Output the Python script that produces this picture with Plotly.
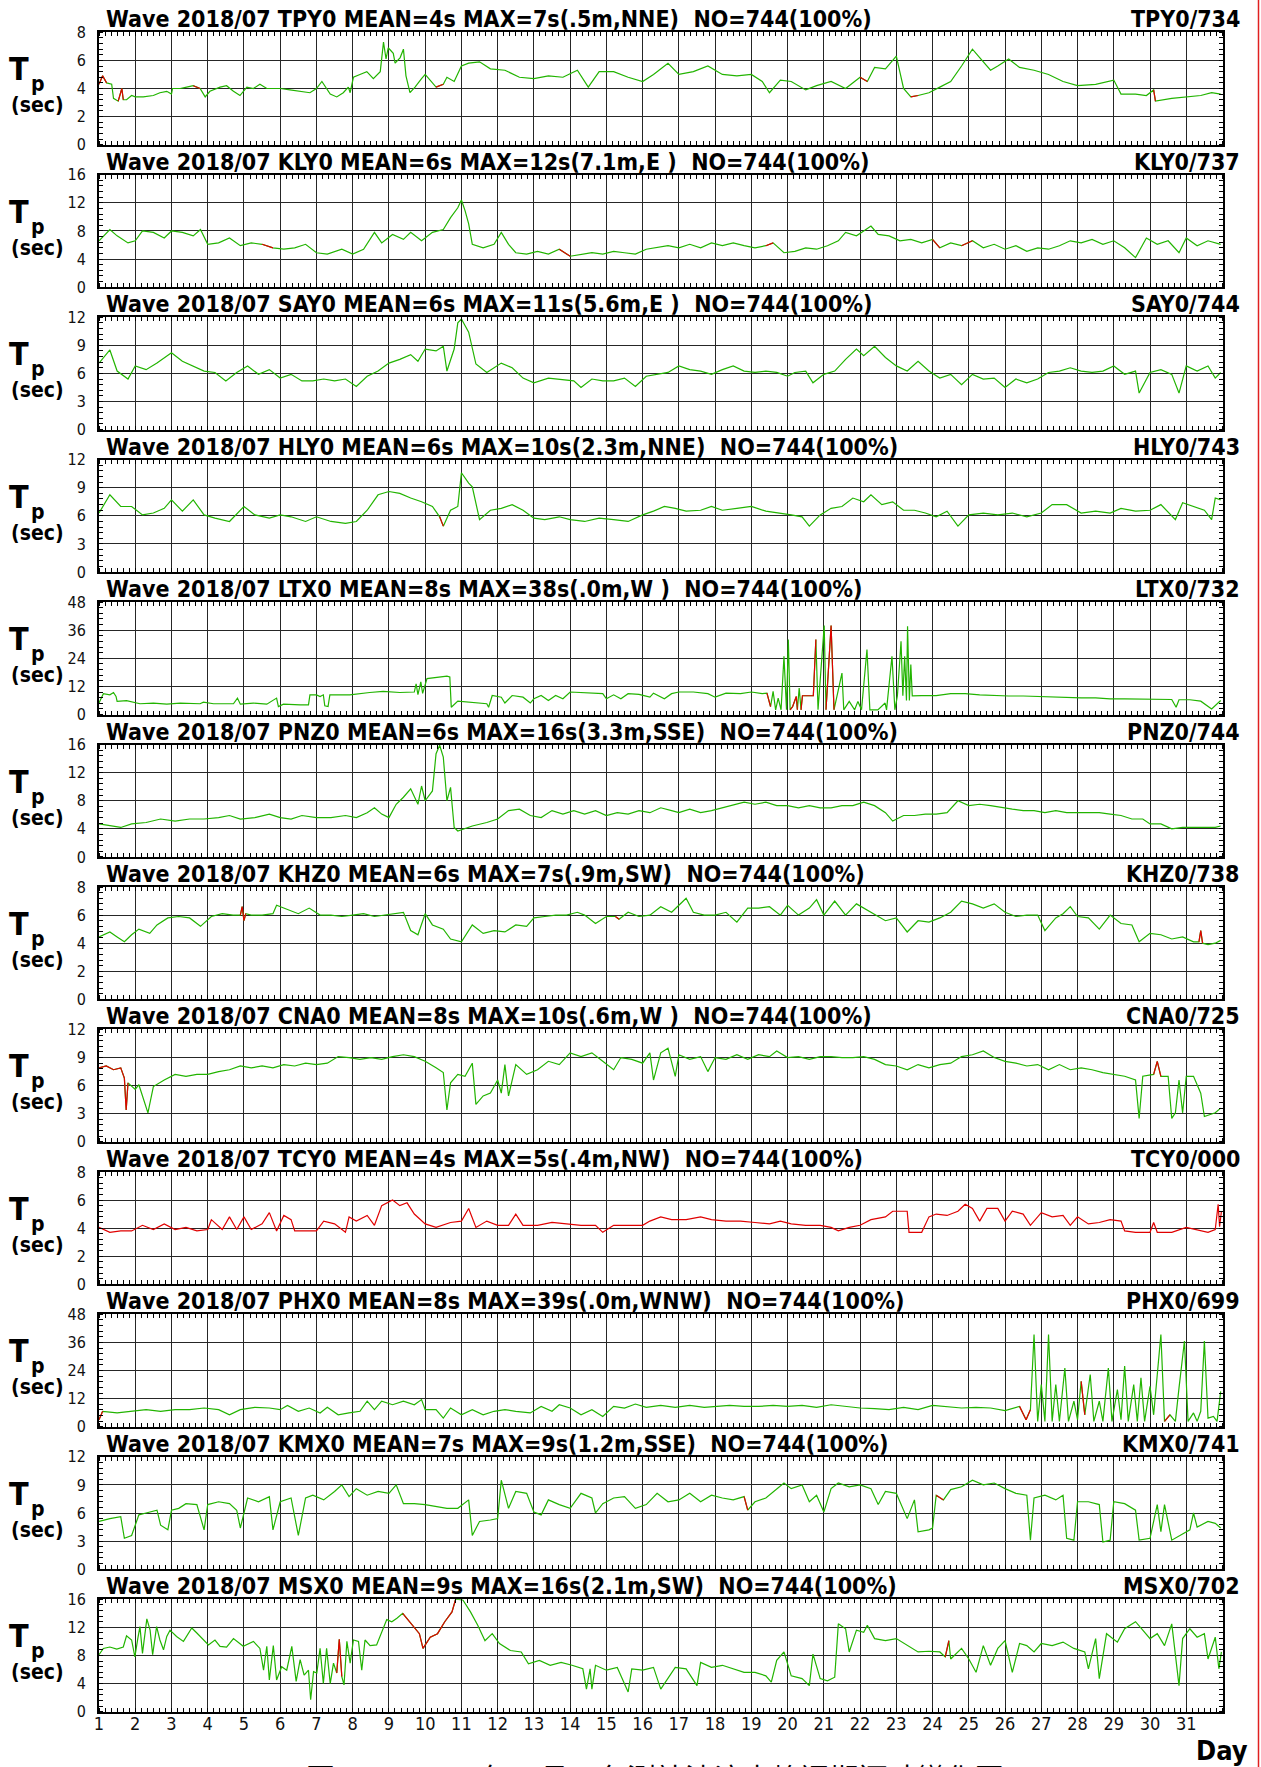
import plotly.graph_objects as go

W, H = 1261, 1767
FONT = "Liberation Sans Narrow, Arial Narrow, DejaVu Sans Condensed, Liberation Sans, sans-serif"
GREEN = "#22b400"
RED = "#e00000"


def xp(s):
    return s / W


def yp(s):
    return 1 - s / H


DAY_TICKS = list(range(1, 32))

STATIONS = ["TPY0", "KLY0", "SAY0", "HLY0", "LTX0", "PNZ0",
            "KHZ0", "CNA0", "TCY0", "PHX0", "KMX0", "MSX0"]
TITLES = [
    "Wave 2018/07 TPY0 MEAN=4s MAX=7s(.5m,NNE)  NO=744(100%)",
    "Wave 2018/07 KLY0 MEAN=6s MAX=12s(7.1m,E )  NO=744(100%)",
    "Wave 2018/07 SAY0 MEAN=6s MAX=11s(5.6m,E )  NO=744(100%)",
    "Wave 2018/07 HLY0 MEAN=6s MAX=10s(2.3m,NNE)  NO=744(100%)",
    "Wave 2018/07 LTX0 MEAN=8s MAX=38s(.0m,W )  NO=744(100%)",
    "Wave 2018/07 PNZ0 MEAN=6s MAX=16s(3.3m,SSE)  NO=744(100%)",
    "Wave 2018/07 KHZ0 MEAN=6s MAX=7s(.9m,SW)  NO=744(100%)",
    "Wave 2018/07 CNA0 MEAN=8s MAX=10s(.6m,W )  NO=744(100%)",
    "Wave 2018/07 TCY0 MEAN=4s MAX=5s(.4m,NW)  NO=744(100%)",
    "Wave 2018/07 PHX0 MEAN=8s MAX=39s(.0m,WNW)  NO=744(100%)",
    "Wave 2018/07 KMX0 MEAN=7s MAX=9s(1.2m,SSE)  NO=744(100%)",
    "Wave 2018/07 MSX0 MEAN=9s MAX=16s(2.1m,SW)  NO=744(100%)",
]
RIGHT_LABELS = ["TPY0/734", "KLY0/737", "SAY0/744", "HLY0/743", "LTX0/732", "PNZ0/744",
                "KHZ0/738", "CNA0/725", "TCY0/000", "PHX0/699", "KMX0/741", "MSX0/702"]
YMAX = [8, 16, 12, 12, 48, 16, 8, 12, 8, 48, 12, 16]
YSTEP = [2, 4, 3, 3, 12, 4, 2, 3, 2, 12, 3, 4]

# ---- series: (day, Tp seconds) ----
TPY0 = [(1.0,4.3),(1.1,4.9),(1.21,4.4),(1.35,4.3),(1.4,3.3),(1.53,3.1),(1.63,4.0),(1.67,3.2),(1.76,3.2),(1.9,3.5),
        (2.0,3.4),(2.22,3.4),(2.5,3.5),(2.68,3.7),(2.87,3.8),(3.0,3.6),(3.03,4.0),(3.24,4.0),(3.42,4.1),(3.6,4.2),
        (3.79,4.0),(3.93,3.4),(4.06,3.8),(4.34,4.1),(4.52,4.2),(4.71,3.8),(4.89,3.5),(5.08,4.1),(5.26,4.0),(5.44,4.3),
        (5.63,4.0),(6.0,4.0),(6.27,3.9),(6.55,3.8),(6.82,3.7),(7.0,4.0),(7.15,4.5),(7.38,3.6),(7.56,3.4),(7.74,3.7),
        (7.88,4.1),(7.93,3.7),(8.02,4.8),(8.2,5.0),(8.39,5.2),(8.57,4.7),(8.76,5.2),(8.85,7.3),(8.92,6.1),(8.98,6.9),
        (9.12,6.5),(9.17,5.8),(9.31,6.2),(9.4,6.8),(9.47,4.9),(9.58,3.7),(9.72,4.1),(9.9,4.7),(10.0,5.0),(10.3,4.1),
        (10.5,4.3),(10.6,4.8),(10.8,4.5),(11.0,5.6),(11.2,5.8),(11.5,5.9),(11.8,5.4),(12.2,5.3),(12.6,4.8),(13.0,4.7),
        (13.4,4.9),(13.8,4.8),(14.2,5.3),(14.5,4.1),(14.8,5.2),(15.2,5.2),(15.6,4.8),(16.0,4.5),(16.3,5.0),(16.7,5.8),
        (17.0,5.0),(17.4,5.2),(17.8,5.6),(18.2,5.0),(18.6,4.9),(19.0,5.0),(19.3,4.5),(19.5,3.7),(19.8,4.6),(20.1,4.5),
        (20.5,3.9),(20.8,4.2),(21.2,4.5),(21.6,4.0),(22.0,4.8),(22.2,4.5),(22.4,5.5),(22.7,5.4),(23.0,6.3),(23.2,4.0),
        (23.4,3.4),(23.6,3.5),(23.9,3.7),(24.2,4.1),(24.5,4.5),(24.8,5.6),(25.0,6.4),(25.1,6.8),(25.3,6.2),(25.6,5.3),
        (25.8,5.6),(26.1,6.1),(26.4,5.5),(26.8,5.3),(27.2,5.0),(27.6,4.5),(28.0,4.2),(28.5,4.3),(29.0,4.6),(29.2,3.6),
        (29.6,3.6),(29.9,3.5),(30.1,3.9),(30.15,3.1),(30.6,3.3),(31.0,3.4),(31.4,3.5),(31.7,3.7),(31.95,3.6)]
TPY0_RED = [(1.0,1.21),(1.53,1.67),(3.6,3.79),(10.3,10.5),(22.0,22.2),(23.4,23.6),(30.1,30.15)]

KLY0 = [(1.0,6.6),(1.3,8.2),(1.5,7.3),(1.8,6.3),(2.0,6.6),(2.2,8.0),(2.5,7.8),(2.8,7.0),(3.0,8.0),(3.3,7.8),
        (3.6,7.3),(3.8,8.2),(4.0,6.1),(4.3,6.3),(4.6,7.0),(4.9,5.9),(5.2,6.3),(5.5,6.1),(5.8,5.6),(6.1,5.4),
        (6.4,5.6),(6.7,6.1),(7.0,4.9),(7.3,4.7),(7.7,5.4),(8.0,4.7),(8.3,5.4),(8.6,7.8),(8.8,6.3),(9.1,7.5),
        (9.4,6.8),(9.6,7.8),(9.9,6.6),(10.2,7.8),(10.5,8.2),(10.7,9.9),(10.9,11.3),(11.0,12.4),(11.1,10.9),(11.2,9.0),
        (11.3,6.1),(11.6,5.6),(11.9,6.1),(12.1,7.8),(12.3,6.1),(12.5,4.9),(12.8,4.7),(13.1,5.1),(13.4,4.7),(13.7,5.4),
        (14.0,4.4),(14.3,4.7),(14.6,4.9),(14.9,4.7),(15.2,5.1),(15.5,4.9),(15.8,4.7),(16.1,5.4),(16.4,5.6),(16.7,5.9),
        (17.0,5.6),(17.3,6.1),(17.6,5.6),(17.9,6.3),(18.2,5.9),(18.5,6.3),(18.8,5.9),(19.1,5.6),(19.4,5.9),(19.6,6.3),
        (19.9,4.9),(20.2,5.1),(20.5,5.6),(20.8,5.4),(21.1,5.9),(21.4,6.6),(21.6,7.8),(21.9,7.3),(22.1,8.0),(22.3,8.7),
        (22.5,7.5),(22.8,7.3),(23.1,6.6),(23.4,6.8),(23.7,6.3),(24.0,6.8),(24.2,5.6),(24.5,6.3),(24.8,5.9),(25.1,6.6),
        (25.4,5.6),(25.7,6.1),(26.0,5.4),(26.3,5.9),(26.6,5.1),(26.9,5.6),(27.2,5.4),(27.5,5.9),(27.8,6.6),(28.1,6.3),
        (28.4,6.8),(28.7,6.1),(29.0,6.6),(29.3,5.6),(29.6,4.2),(29.9,7.0),(30.2,6.1),(30.5,6.6),(30.8,4.9),(31.0,7.0),
        (31.3,5.9),(31.6,6.6),(31.95,6.1)]
KLY0_RED = [(5.5,5.8),(13.7,14.0),(19.4,19.6),(24.0,24.2),(24.8,25.1)]

SAY0 = [(1.0,7.1),(1.3,8.5),(1.5,6.25),(1.8,5.4),(2.0,6.8),(2.3,6.4),(2.6,7.1),(2.9,7.9),(3.0,8.2),(3.3,7.3),
        (3.6,6.8),(3.9,6.25),(4.2,6.1),(4.5,5.2),(4.8,6.1),(5.1,6.8),(5.4,5.9),(5.7,6.4),(6.0,5.5),(6.3,5.9),
        (6.6,5.2),(6.9,5.2),(7.2,5.4),(7.5,5.2),(7.8,5.4),(8.1,4.6),(8.4,5.7),(8.7,6.25),(9.0,7.1),(9.3,7.5),
        (9.6,8.0),(9.8,7.3),(10.0,8.6),(10.3,8.4),(10.5,8.9),(10.6,6.25),(10.8,8.6),(10.9,11.4),(11.0,11.8),(11.2,10.4),
        (11.4,7.0),(11.7,6.1),(12.1,7.1),(12.4,6.6),(12.7,5.5),(13.0,5.0),(13.4,5.5),(13.7,5.4),(14.1,5.2),(14.3,4.5),
        (14.6,5.4),(14.9,5.2),(15.2,5.2),(15.5,5.5),(15.8,4.6),(16.1,5.7),(16.4,5.9),(16.7,6.1),(17.0,6.8),(17.3,6.4),
        (17.6,6.25),(17.9,5.9),(18.2,6.4),(18.5,6.8),(18.8,6.25),(19.1,6.1),(19.4,6.25),(19.7,6.1),(20.0,5.7),(20.2,6.1),
        (20.5,6.25),(20.7,5.0),(21.0,5.9),(21.3,6.25),(21.6,7.5),(21.9,8.6),(22.1,7.9),(22.4,8.9),(22.7,7.7),(23.0,6.8),
        (23.3,6.25),(23.6,7.3),(23.9,6.25),(24.2,5.5),(24.5,5.9),(24.8,4.8),(25.1,5.9),(25.4,5.4),(25.7,5.5),(26.0,4.5),
        (26.3,5.4),(26.6,5.0),(26.9,5.4),(27.2,6.1),(27.5,6.25),(27.8,6.6),(28.1,6.25),(28.4,6.1),(28.7,6.25),(29.0,6.8),
        (29.3,5.9),(29.6,6.25),(29.7,3.9),(30.0,6.1),(30.3,6.4),(30.6,5.9),(30.8,3.9),(31.0,6.8),(31.3,6.25),(31.6,6.8),
        (31.8,5.5),(31.95,6.1)]
SAY0_RED = []

HLY0 = [(1.0,6.3),(1.3,8.25),(1.6,7.0),(1.9,7.0),(2.2,6.1),(2.5,6.3),(2.8,6.8),(3.0,7.7),(3.3,6.5),(3.6,7.7),
        (3.9,6.1),(4.2,5.75),(4.6,5.4),(5.0,7.0),(5.3,6.1),(5.7,5.75),(6.0,6.1),(6.3,5.9),(6.7,5.4),(7.0,5.9),
        (7.4,5.4),(7.8,5.2),(8.1,5.4),(8.4,6.6),(8.7,8.25),(9.0,8.6),(9.3,8.4),(9.6,7.9),(9.9,7.5),(10.2,7.0),
        (10.4,5.9),(10.5,4.9),(10.7,6.6),(10.9,7.0),(11.0,10.6),(11.2,9.5),(11.3,9.1),(11.5,5.6),(11.8,6.6),(12.1,6.8),
        (12.4,7.2),(12.7,6.6),(13.0,5.75),(13.3,5.6),(13.7,5.9),(14.0,5.6),(14.4,5.4),(14.8,5.75),(15.2,5.6),(15.6,5.4),
        (16.0,6.1),(16.3,6.5),(16.6,7.0),(16.9,6.8),(17.2,6.5),(17.6,6.6),(17.9,7.0),(18.2,6.6),(18.6,6.8),(19.0,7.0),
        (19.4,6.5),(19.8,6.3),(20.1,6.1),(20.4,5.9),(20.6,4.9),(20.9,6.1),(21.2,6.8),(21.5,7.0),(21.8,7.9),(22.1,7.5),
        (22.3,8.25),(22.6,7.2),(22.9,7.5),(23.2,6.6),(23.5,6.6),(23.8,6.3),(24.1,5.9),(24.4,6.5),(24.7,4.9),(25.0,6.1),
        (25.4,6.3),(25.8,6.1),(26.2,6.3),(26.6,5.9),(27.0,6.3),(27.3,7.2),(27.7,7.2),(28.1,6.3),(28.5,6.5),(28.9,6.3),
        (29.2,6.8),(29.6,6.5),(30.0,6.6),(30.3,7.2),(30.7,5.6),(30.9,7.4),(31.2,7.0),(31.5,6.6),(31.7,5.6),(31.8,7.9),
        (31.95,7.7)]
HLY0_RED = [(10.4,10.5)]

LTX0 = [(1.0,4.9),(1.12,8.9),(1.3,8.4),(1.4,9.4),(1.47,7.7),(1.5,5.6),(1.76,5.9),(2.13,4.6),(2.5,4.9),(2.87,4.4),
        (3.24,4.9),(3.79,4.6),(3.88,5.3),(4.16,4.6),(4.71,4.6),(4.82,7.0),(4.9,4.4),(5.26,4.9),(5.63,4.4),(5.9,7.0),
        (5.95,3.4),(6.09,4.4),(6.55,4.1),(6.78,4.1),(6.82,8.4),(7.0,8.4),(7.1,7.7),(7.19,8.4),(7.23,3.7),(7.32,3.4),
        (7.37,8.4),(7.92,8.4),(8.47,9.4),(8.84,9.9),(9.3,9.4),(9.7,9.6),(9.75,13.1),(9.8,8.5),(9.88,13.9),(9.93,9.0),
        (10.05,15.3),(10.4,16.0),(10.6,16.4),(10.68,16.0),(10.72,3.1),(10.9,5.7),(11.3,5.3),(11.7,4.6),(11.75,3.1),(11.85,8.1),
        (12.1,7.4),(12.2,4.9),(12.4,8.1),(12.7,7.4),(12.9,4.9),(13.0,6.7),(13.2,8.1),(13.4,6.0),(13.6,8.1),(13.8,6.7),
        (14.0,9.6),(14.3,9.3),(14.6,8.9),(14.9,8.9),(15.0,6.7),(15.2,8.4),(15.4,6.7),(15.6,8.9),(15.9,8.6),(16.2,7.4),
        (16.3,9.1),(16.6,6.7),(16.8,8.9),(17.0,9.6),(17.4,9.6),(17.8,8.9),(18.0,7.4),(18.3,9.1),(18.7,8.9),(19.0,9.6),
        (19.3,8.9),(19.43,9.1),(19.53,3.4),(19.6,9.9),(19.67,2.0),(19.74,7.0),(19.82,2.0),(19.9,24.9),(19.97,2.0),(20.02,32.0),
        (20.07,2.0),(20.14,3.4),(20.24,7.7),(20.27,2.0),(20.32,11.3),(20.37,2.0),(20.41,8.0),(20.71,8.0),(20.78,32.0),(20.84,2.0),
        (21.01,38.0),(21.06,2.0),(21.2,38.0),(21.28,2.0),(21.5,17.7),(21.55,2.0),(21.7,5.6),(21.85,2.0),(21.94,5.6),(22.04,2.0),
        (22.19,27.7),(22.27,2.0),(22.49,2.0),(22.69,4.9),(22.73,2.0),(22.88,24.9),(22.96,2.0),(23.03,8.0),(23.13,31.3),(23.18,8.0),
        (23.23,24.9),(23.28,6.0),(23.31,37.7),(23.36,6.0),(23.4,21.3),(23.44,8.0),(23.7,8.1),(24.1,8.1),(24.5,8.9),(24.9,8.9),
        (25.3,8.4),(25.7,8.1),(26.1,7.9),(26.5,7.9),(26.9,7.7),(27.3,7.4),(27.7,7.1),(28.1,7.1),(28.5,7.1),(28.9,6.7),
        (29.3,6.7),(29.7,6.7),(30.0,6.7),(30.3,6.7),(30.6,6.4),(30.72,3.1),(30.8,6.3),(31.1,6.3),(31.4,5.7),(31.7,2.4),
        (31.95,6.0)]
LTX0_RED = [(19.43,19.53),(20.07,20.27),(20.37,20.78),(21.06,21.28)]

PNZ0 = [(1.0,4.7),(1.3,4.4),(1.6,4.2),(1.9,4.7),(2.3,4.9),(2.7,5.4),(3.1,5.1),(3.5,5.4),(3.9,5.4),(4.3,5.6),
        (4.6,5.9),(4.9,5.4),(5.3,5.6),(5.7,6.1),(6.0,5.6),(6.3,5.4),(6.6,5.9),(7.0,5.6),(7.4,5.6),(7.8,5.9),
        (8.1,5.6),(8.4,6.3),(8.6,7.0),(8.8,6.1),(9.0,5.6),(9.2,7.5),(9.4,8.5),(9.6,9.7),(9.8,7.5),(9.9,10.1),
        (10.0,8.0),(10.2,9.4),(10.3,14.7),(10.4,15.9),(10.5,14.2),(10.6,8.0),(10.7,9.9),(10.8,4.2),(10.9,3.7),(11.3,4.4),
        (11.7,4.9),(12.0,5.4),(12.3,6.6),(12.6,6.8),(12.9,5.9),(13.2,5.6),(13.5,6.6),(13.8,6.1),(14.1,6.6),(14.4,6.1),
        (14.7,6.6),(15.0,5.9),(15.3,6.3),(15.6,6.1),(15.9,6.6),(16.2,6.3),(16.5,7.0),(16.8,6.6),(17.0,6.3),(17.3,6.8),
        (17.6,6.3),(17.9,6.6),(18.2,7.0),(18.5,7.3),(18.8,7.8),(19.1,7.5),(19.4,7.8),(19.7,7.3),(20.0,7.3),(20.3,7.0),
        (20.6,7.3),(20.9,7.0),(21.2,7.0),(21.5,7.3),(21.8,7.3),(22.1,7.8),(22.4,7.3),(22.7,6.3),(22.9,5.1),(23.2,5.9),
        (23.5,5.9),(23.8,6.1),(24.1,6.1),(24.4,6.3),(24.7,8.0),(25.0,7.3),(25.3,7.5),(25.6,7.3),(25.9,7.0),(26.2,6.8),
        (26.5,6.6),(26.8,6.6),(27.1,6.3),(27.4,6.6),(27.7,6.3),(28.0,6.3),(28.3,6.3),(28.6,6.3),(28.9,6.1),(29.2,5.9),
        (29.5,5.4),(29.8,5.4),(30.0,4.7),(30.3,4.7),(30.6,4.0),(30.9,4.2),(31.2,4.2),(31.5,4.2),(31.8,4.2),(31.95,4.4)]
PNZ0_RED = []

KHZ0 = [(1.0,4.45),(1.3,4.8),(1.5,4.45),(1.7,4.1),(1.9,4.6),(2.1,5.0),(2.4,4.7),(2.6,5.3),(2.9,5.8),(3.2,5.9),
        (3.5,5.8),(3.8,5.2),(4.1,5.9),(4.4,6.1),(4.7,6.0),(4.9,6.0),(4.95,6.6),(5.0,5.6),(5.05,6.1),(5.2,6.0),
        (5.5,6.0),(5.8,6.1),(5.9,6.7),(6.2,6.4),(6.5,6.1),(6.8,6.5),(7.1,6.0),(7.4,6.0),(7.7,5.9),(8.0,6.0),
        (8.3,6.1),(8.6,5.9),(8.9,6.0),(9.2,6.1),(9.4,6.2),(9.6,4.9),(9.8,4.6),(10.0,6.1),(10.2,5.3),(10.5,5.0),
        (10.7,4.3),(11.0,4.1),(11.3,5.3),(11.6,4.7),(11.9,4.9),(12.2,4.8),(12.5,5.3),(12.8,5.2),(13.0,5.8),(13.3,5.9),
        (13.6,6.0),(13.9,6.0),(14.2,6.2),(14.4,6.0),(14.7,5.4),(15.0,5.9),(15.25,5.9),(15.35,5.7),(15.6,6.2),(15.9,5.9),
        (16.2,6.0),(16.5,6.6),(16.8,6.2),(17.0,6.7),(17.2,7.2),(17.4,6.2),(17.7,6.0),(18.0,6.0),(18.3,6.2),(18.6,5.5),
        (18.9,6.5),(19.2,6.5),(19.5,6.6),(19.8,6.0),(20.0,6.7),(20.3,6.0),(20.6,6.5),(20.8,7.1),(21.0,6.0),(21.3,7.0),
        (21.6,6.0),(21.9,6.8),(22.1,6.5),(22.4,6.1),(22.7,5.6),(23.0,5.8),(23.3,4.8),(23.6,5.6),(23.9,5.5),(24.2,5.8),
        (24.5,6.2),(24.8,7.0),(25.1,6.8),(25.4,6.5),(25.7,6.8),(26.0,6.2),(26.3,5.9),(26.6,6.0),(26.9,6.0),(27.1,4.9),
        (27.4,5.8),(27.6,6.1),(27.8,6.6),(28.0,5.9),(28.3,5.8),(28.6,5.0),(28.9,6.0),(29.2,5.4),(29.5,5.3),(29.7,4.1),
        (30.0,4.7),(30.3,4.6),(30.6,4.3),(30.9,4.45),(31.2,4.1),(31.35,4.1),(31.4,4.9),(31.45,4.0),(31.6,3.9),(31.8,4.0),
        (31.95,4.2)]
KHZ0_RED = [(4.9,5.05),(15.25,15.35),(31.35,31.45)]

CNA0 = [(1.0,7.9),(1.2,8.1),(1.4,7.7),(1.6,7.9),(1.7,6.8),(1.75,3.4),(1.8,6.3),(2.0,5.6),(2.1,6.1),(2.25,4.3),
        (2.35,3.1),(2.5,5.9),(2.8,6.6),(3.1,7.2),(3.4,7.0),(3.7,7.2),(4.0,7.2),(4.3,7.5),(4.6,7.7),(4.9,8.1),
        (5.2,7.9),(5.5,8.1),(5.8,7.9),(6.1,8.25),(6.4,8.1),(6.7,8.4),(7.0,8.25),(7.3,8.4),(7.6,9.1),(7.9,9.0),
        (8.2,8.8),(8.5,9.0),(8.8,8.8),(9.1,9.1),(9.4,9.3),(9.7,9.1),(10.0,8.6),(10.3,7.9),(10.5,7.4),(10.6,3.4),
        (10.7,6.3),(10.9,7.2),(11.1,7.0),(11.3,8.4),(11.4,4.0),(11.6,4.9),(11.8,5.2),(12.0,6.6),(12.1,5.2),(12.2,8.25),
        (12.3,4.9),(12.5,8.25),(12.8,7.2),(13.1,7.7),(13.4,8.6),(13.7,8.25),(14.0,9.5),(14.3,9.1),(14.6,9.5),(14.9,8.6),
        (15.2,7.7),(15.4,9.0),(15.7,8.8),(16.0,8.4),(16.2,9.5),(16.3,6.6),(16.5,9.5),(16.7,10.0),(16.9,7.0),(17.0,9.3),
        (17.3,8.8),(17.6,9.1),(17.8,7.5),(18.0,9.0),(18.3,8.8),(18.6,9.3),(18.9,8.8),(19.2,9.3),(19.5,9.1),(19.7,9.7),
        (20.0,9.0),(20.3,9.1),(20.6,8.8),(20.9,9.1),(21.2,9.1),(21.5,9.0),(21.8,9.0),(22.1,9.1),(22.4,8.8),(22.7,8.25),
        (23.0,8.1),(23.3,7.7),(23.6,8.25),(23.9,7.9),(24.2,8.25),(24.5,8.4),(24.8,9.1),(25.1,9.3),(25.4,9.7),(25.7,9.0),
        (26.0,8.6),(26.3,8.4),(26.6,8.1),(26.9,8.25),(27.2,7.7),(27.5,8.25),(27.8,7.7),(28.1,7.9),(28.4,7.7),(28.7,7.4),
        (29.0,7.2),(29.3,7.0),(29.6,6.6),(29.7,2.5),(29.8,7.0),(30.1,7.2),(30.2,8.6),(30.3,7.0),(30.5,7.0),(30.6,2.5),
        (30.7,3.1),(30.8,6.6),(30.9,3.1),(31.0,7.0),(31.2,7.0),(31.4,5.2),(31.5,2.7),(31.8,3.1),(31.95,3.6)]
CNA0_RED = [(1.0,1.8),(30.1,30.3)]

TCY0 = [(1.0,4.05),(1.3,3.7),(1.6,3.8),(1.9,3.8),(2.2,4.2),(2.5,3.9),(2.8,4.3),(3.1,3.9),(3.4,4.05),(3.7,3.8),
        (4.0,3.9),(4.1,4.6),(4.4,3.9),(4.6,4.8),(4.8,3.9),(5.0,4.8),(5.2,3.9),(5.5,4.3),(5.7,5.1),(5.9,3.8),
        (6.1,4.9),(6.3,4.6),(6.4,3.8),(6.7,3.8),(7.0,3.8),(7.2,4.5),(7.5,4.3),(7.8,3.7),(7.9,4.8),(8.1,4.5),
        (8.4,4.9),(8.6,4.2),(8.8,5.6),(9.1,6.0),(9.3,5.6),(9.5,5.8),(9.7,5.0),(10.0,4.3),(10.3,4.05),(10.7,4.4),
        (11.0,4.5),(11.2,5.4),(11.4,4.05),(11.7,4.5),(12.0,4.2),(12.3,4.2),(12.5,5.0),(12.7,4.2),(13.1,4.2),(13.5,4.4),
        (13.9,4.3),(14.3,4.2),(14.7,4.2),(14.9,3.7),(15.2,4.2),(15.6,4.2),(16.0,4.2),(16.2,4.5),(16.5,4.8),(16.8,4.6),
        (17.2,4.6),(17.6,4.8),(17.9,4.6),(18.3,4.5),(18.7,4.5),(19.1,4.4),(19.5,4.3),(19.8,4.5),(20.1,4.3),(20.5,4.2),
        (20.9,4.2),(21.2,4.05),(21.4,3.8),(21.7,4.05),(22.0,4.2),(22.3,4.6),(22.7,4.8),(22.9,5.2),(23.3,5.2),(23.35,3.7),
        (23.7,3.7),(23.9,4.8),(24.1,5.0),(24.4,4.9),(24.7,5.2),(24.9,5.7),(25.1,5.4),(25.3,4.5),(25.5,5.4),(25.8,5.4),
        (26.0,4.5),(26.2,5.2),(26.5,5.0),(26.7,4.2),(27.0,5.1),(27.3,4.8),(27.6,4.9),(27.8,4.2),(28.0,4.8),(28.3,4.3),
        (28.6,4.4),(28.9,4.6),(29.2,4.5),(29.3,3.8),(29.6,3.7),(30.0,3.7),(30.1,4.4),(30.2,3.7),(30.6,3.7),(31.0,4.05),
        (31.3,3.9),(31.6,3.7),(31.8,3.9),(31.88,5.7),(31.92,4.1),(31.97,5.2)]
TCY0_RED = [(1.0,32.0)]

PHX0 = [(1.0,3.0),(1.1,6.6),(1.5,5.9),(1.9,6.6),(2.3,7.3),(2.7,6.6),(3.1,7.3),(3.5,7.3),(3.9,8.0),(4.3,7.3),
        (4.6,5.1),(4.9,7.3),(5.3,8.3),(5.7,8.0),(6.0,7.3),(6.2,9.1),(6.5,6.6),(6.8,8.0),(7.1,5.9),(7.3,8.3),
        (7.6,5.1),(7.9,5.9),(8.2,6.6),(8.4,10.9),(8.6,7.3),(8.8,10.9),(9.1,9.4),(9.4,10.9),(9.7,9.4),(9.9,11.6),
        (10.0,7.3),(10.3,7.3),(10.5,3.7),(10.7,8.0),(11.0,5.1),(11.3,7.3),(11.6,5.1),(11.9,6.6),(12.2,7.3),(12.5,6.6),
        (12.9,5.9),(13.2,8.7),(13.5,6.6),(13.7,9.4),(14.0,8.0),(14.3,5.1),(14.6,7.3),(14.9,4.4),(15.2,8.7),(15.5,8.0),
        (15.8,9.7),(16.1,8.3),(16.5,9.1),(16.9,8.3),(17.3,9.1),(17.7,8.3),(18.0,8.7),(18.4,9.1),(18.8,8.7),(19.2,8.7),
        (19.6,9.1),(20.0,8.7),(20.4,9.1),(20.8,8.3),(21.2,9.4),(21.6,8.7),(22.0,8.0),(22.4,7.7),(22.8,7.3),(23.2,8.3),
        (23.6,7.3),(24.0,9.1),(24.4,8.7),(24.8,8.0),(25.2,8.3),(25.6,8.0),(26.0,6.9),(26.4,8.7),(26.58,3.0),(26.7,7.3),
        (26.8,39.4),(26.9,2.3),(27.0,18.0),(27.1,2.3),(27.2,39.4),(27.3,2.3),(27.4,18.0),(27.5,2.3),(27.65,25.1),(27.75,2.3),
        (27.9,10.9),(28.0,3.0),(28.1,19.4),(28.2,5.1),(28.35,22.3),(28.45,2.3),(28.6,10.9),(28.7,2.3),(28.85,25.1),(28.95,2.3),
        (29.1,15.9),(29.2,3.0),(29.3,25.9),(29.4,2.3),(29.55,18.0),(29.65,2.3),(29.75,20.9),(29.85,2.3),(30.0,17.3),(30.1,5.1),
        (30.3,39.4),(30.4,2.3),(30.55,5.1),(30.7,2.3),(30.8,16.6),(30.95,36.6),(31.05,2.3),(31.2,5.9),(31.3,2.3),(31.4,6.6),
        (31.5,36.6),(31.6,3.7),(31.75,4.4),(31.85,2.3),(31.95,15.1)]
PHX0_RED = [(1.0,1.1),(26.4,26.7),(28.1,28.2),(30.4,30.55)]

KMX0 = [(1.0,5.1),(1.3,5.4),(1.6,5.6),(1.7,3.3),(1.9,3.6),(2.1,5.8),(2.3,6.0),(2.6,6.3),(2.7,4.7),(2.9,4.2),
        (3.0,6.3),(3.2,6.5),(3.4,7.0),(3.7,6.9),(3.9,4.2),(4.0,6.9),(4.3,7.2),(4.6,7.0),(4.8,6.3),(4.9,4.4),
        (5.1,7.6),(5.4,7.2),(5.7,7.75),(5.8,4.2),(6.0,7.2),(6.3,7.6),(6.5,3.6),(6.7,7.6),(6.9,7.9),(7.2,7.4),
        (7.5,8.3),(7.7,9.0),(7.9,7.75),(8.1,8.6),(8.4,7.9),(8.7,8.3),(9.0,8.1),(9.2,9.0),(9.4,7.0),(9.7,7.0),
        (10.0,6.9),(10.3,6.7),(10.6,6.5),(10.9,6.5),(11.2,7.4),(11.3,3.6),(11.5,5.1),(11.8,5.25),(12.0,5.4),(12.1,9.5),
        (12.3,6.5),(12.5,8.3),(12.8,8.1),(13.0,6.1),(13.2,5.8),(13.4,7.4),(13.7,6.9),(14.0,6.5),(14.3,8.1),(14.6,7.6),
        (14.7,6.0),(14.9,7.0),(15.2,7.6),(15.5,7.75),(15.8,6.5),(16.1,6.9),(16.4,8.1),(16.7,7.2),(17.0,7.4),(17.3,8.1),
        (17.6,7.2),(17.9,7.9),(18.2,7.6),(18.5,7.4),(18.8,7.75),(18.9,6.3),(19.1,7.2),(19.4,7.6),(19.7,8.6),(19.9,9.2),
        (20.1,8.6),(20.4,9.0),(20.6,7.2),(20.8,7.9),(21.0,6.1),(21.2,8.6),(21.4,9.2),(21.7,8.8),(22.0,9.0),(22.3,8.6),
        (22.5,6.9),(22.7,8.3),(23.0,8.1),(23.3,5.4),(23.5,7.4),(23.6,4.0),(23.9,4.2),(24.0,4.4),(24.1,7.9),(24.3,7.4),
        (24.5,8.5),(24.8,8.8),(25.1,9.5),(25.4,9.0),(25.7,9.2),(26.0,8.6),(26.3,8.1),(26.6,7.9),(26.7,3.1),(26.8,7.6),
        (27.1,7.9),(27.4,7.4),(27.6,7.9),(27.7,3.3),(27.9,3.1),(28.0,7.2),(28.3,7.2),(28.6,6.9),(28.7,2.9),(28.9,3.1),
        (29.0,7.2),(29.3,7.0),(29.6,6.3),(29.7,3.1),(30.0,3.3),(30.2,6.9),(30.3,4.0),(30.4,6.9),(30.6,3.1),(30.9,3.8),
        (31.1,4.2),(31.2,6.0),(31.3,4.5),(31.6,5.1),(31.8,4.9),(31.95,4.4)]
KMX0_RED = [(18.8,18.9),(24.1,24.3)]

MSX0 = [(1.0,8.1),(1.12,9.0),(1.3,9.2),(1.49,8.9),(1.67,9.2),(1.76,10.8),(1.9,10.2),(1.99,7.8),(2.07,10.4),(2.13,12.1),
        (2.2,8.3),(2.32,13.2),(2.41,11.6),(2.48,8.1),(2.59,12.1),(2.68,10.2),(2.78,8.8),(2.87,10.7),(2.96,11.6),(3.14,10.7),
        (3.33,10.0),(3.56,11.9),(3.7,11.2),(3.88,10.2),(4.02,9.5),(4.2,10.2),(4.34,9.3),(4.52,9.2),(4.71,10.4),(4.98,9.3),
        (5.26,10.0),(5.44,9.0),(5.54,5.9),(5.63,9.3),(5.7,4.5),(5.81,9.4),(5.9,4.5),(6.04,6.4),(6.18,5.9),(6.32,9.3),
        (6.44,4.3),(6.55,7.4),(6.66,5.2),(6.78,5.9),(6.84,1.7),(6.92,5.7),(7.01,5.5),(7.1,9.0),(7.19,4.0),(7.28,9.0),
        (7.38,4.0),(7.47,6.9),(7.56,5.5),(7.63,10.3),(7.7,5.0),(7.76,3.8),(7.84,10.0),(7.93,6.9),(8.02,10.2),(8.16,10.0),
        (8.25,5.9),(8.34,10.2),(8.48,9.4),(8.66,9.5),(8.76,10.7),(8.94,13.1),(9.08,12.8),(9.22,13.3),(9.38,14.0),(9.65,12.3),
        (9.84,11.1),(9.94,9.0),(10.14,10.6),(10.34,11.1),(10.54,12.8),(10.74,14.2),(10.84,16.0),(11.04,15.9),(11.25,14.2),(11.45,12.3),
        (11.65,10.1),(11.85,11.1),(12.05,9.7),(12.35,8.7),(12.65,8.5),(12.85,6.8),(13.15,7.3),(13.45,6.6),(13.75,7.0),(14.05,6.6),
        (14.35,6.1),(14.45,3.2),(14.55,6.1),(14.6,3.2),(14.7,6.6),(15.0,5.9),(15.3,6.3),(15.6,2.8),(15.7,6.1),(16.0,5.9),
        (16.3,6.3),(16.5,3.2),(16.7,4.7),(16.9,6.3),(17.2,6.1),(17.5,3.7),(17.6,7.0),(17.9,6.3),(18.2,6.6),(18.5,6.1),
        (18.8,5.6),(19.1,5.6),(19.4,5.1),(19.55,4.2),(19.7,7.3),(19.9,8.5),(20.1,5.1),(20.4,4.7),(20.6,3.7),(20.7,8.2),
        (20.9,4.7),(21.1,4.4),(21.3,4.9),(21.4,12.5),(21.6,11.8),(21.7,8.5),(21.9,11.6),(22.1,11.3),(22.2,12.3),(22.4,10.4),
        (22.7,10.1),(23.0,10.4),(23.3,9.4),(23.6,8.5),(23.9,8.6),(24.2,8.5),(24.35,7.8),(24.45,10.1),(24.5,7.5),(24.8,9.0),
        (25.0,7.5),(25.2,5.6),(25.4,9.4),(25.6,6.6),(25.8,9.0),(26.0,10.1),(26.2,5.6),(26.4,9.7),(26.6,9.4),(26.8,8.5),
        (27.0,9.7),(27.3,9.4),(27.6,9.9),(27.9,9.0),(28.2,8.5),(28.3,6.1),(28.5,10.4),(28.6,4.7),(28.8,11.1),(29.1,9.9),
        (29.3,11.8),(29.6,12.8),(29.8,11.6),(30.0,10.4),(30.2,11.1),(30.4,9.4),(30.6,12.5),(30.8,3.7),(30.9,10.4),(31.1,11.8),
        (31.3,10.6),(31.5,11.1),(31.6,7.5),(31.8,10.6),(31.9,6.1),(31.97,8.5)]
MSX0_RED = [(7.56,7.7),(9.38,10.84),(24.35,24.45)]

SERIES = [TPY0, KLY0, SAY0, HLY0, LTX0, PNZ0, KHZ0, CNA0, TCY0, PHX0, KMX0, MSX0]
RED_SPANS = [TPY0_RED, KLY0_RED, SAY0_RED, HLY0_RED, LTX0_RED, PNZ0_RED,
             KHZ0_RED, CNA0_RED, TCY0_RED, PHX0_RED, KMX0_RED, MSX0_RED]

# ---- panel geometry, in window pixels ----
TOP0, PITCH, PH = 32.3, 142.45, 112.4
XL, XR = 99.0, 1222.5

fig = go.Figure()
annotations = []
layout = {}

for k in range(12):
    n = k + 1
    sfx = "" if n == 1 else str(n)
    top = TOP0 + PITCH * k
    bot = top + PH
    ydom = [yp(bot), yp(top)]
    xdom = [xp(XL), xp(XR)]
    pts = SERIES[k]
    days = [p[0] for p in pts]
    vals = [p[1] for p in pts]
    spans = RED_SPANS[k]
    all_red = len(spans) == 1 and spans[0][0] <= days[0] and spans[0][1] >= days[-1]
    if not all_red:
        fig.add_trace(go.Scatter(x=days, y=vals, mode="lines",
                                 line=dict(color=GREEN, width=1.2),
                                 xaxis="x" + sfx, yaxis="y" + sfx,
                                 showlegend=False, hoverinfo="skip"))
    rx, ry = [], []
    for a, b in spans:
        seg = [p for p in pts if a <= p[0] <= b]
        if len(seg) >= 2:
            rx += [p[0] for p in seg] + [None]
            ry += [p[1] for p in seg] + [None]
    if rx:
        fig.add_trace(go.Scatter(x=rx, y=ry, mode="lines",
                                 line=dict(color=RED, width=1.2),
                                 xaxis="x" + sfx, yaxis="y" + sfx,
                                 showlegend=False, hoverinfo="skip", connectgaps=False))

    last = (k == 11)
    layout["xaxis" + sfx] = dict(
        domain=xdom, anchor="y" + sfx, range=[1, 32],
        tickmode="array", tickvals=DAY_TICKS,
        ticktext=[str(d) for d in DAY_TICKS] if last else [""] * len(DAY_TICKS),
        showticklabels=last,
        tickfont=dict(family=FONT, size=18, color="#111"),
        ticks="", showgrid=True, gridcolor="#262626", gridwidth=1.1,
        showline=True, linecolor="black", linewidth=2, mirror="allticks",
        zeroline=False, fixedrange=True, automargin=False, ticklabelstandoff=-5,
        minor=dict(dtick=1 / 6, tick0=1, ticks="inside", ticklen=4,
                   tickcolor="black", tickwidth=1, showgrid=False),
    )
    ymax, ystep = YMAX[k], YSTEP[k]
    layout["yaxis" + sfx] = dict(
        domain=ydom, anchor="x" + sfx, range=[0, ymax],
        tickmode="array", tickvals=list(range(0, ymax + 1, ystep)),
        tickfont=dict(family=FONT, size=16, color="#111"),
        ticks="", showgrid=True, gridcolor="#262626", gridwidth=1.1,
        showline=True, linecolor="black", linewidth=2, mirror="allticks",
        zeroline=False, fixedrange=True, ticklabelstandoff=8, automargin=False,
        minor=dict(dtick=ystep / 5, tick0=0, ticks="inside", ticklen=4,
                   tickcolor="black", tickwidth=1, showgrid=False),
    )
    # panel title and right-hand label
    annotations.append(dict(
        text="<b>" + TITLES[k].replace("  ", "\u00a0\u00a0") + "</b>",
        xref="paper", yref="paper", x=xp(105), y=yp(top + 1),
        xanchor="left", yanchor="bottom", showarrow=False, borderpad=0,
        font=dict(family=FONT, size=23, color="black")))
    annotations.append(dict(
        text="<b>" + RIGHT_LABELS[k] + "</b>",
        xref="paper", yref="paper", x=xp(1241), y=yp(top + 1),
        xanchor="right", yanchor="bottom", showarrow=False, borderpad=0,
        font=dict(family=FONT, size=23, color="black")))
    # y label: T_p (sec)
    annotations.append(dict(
        text="<b>T</b>", xref="paper", yref="paper", x=xp(19), y=yp(top + 37),
        xanchor="center", yanchor="middle", showarrow=False, borderpad=0,
        font=dict(family=FONT, size=32, color="black")))
    annotations.append(dict(
        text="<b>p</b>", xref="paper", yref="paper", x=xp(38), y=yp(top + 52),
        xanchor="center", yanchor="middle", showarrow=False, borderpad=0,
        font=dict(family=FONT, size=21, color="black")))
    annotations.append(dict(
        text="<b>(sec)</b>", xref="paper", yref="paper", x=xp(37), y=yp(top + 73),
        xanchor="center", yanchor="middle", showarrow=False, borderpad=0,
        font=dict(family=FONT, size=21, color="black")))

annotations.append(dict(
    text="<b>Day</b>", xref="paper", yref="paper", x=xp(1222), y=yp(1750),
    xanchor="center", yanchor="middle", showarrow=False,
    font=dict(family=FONT, size=27, color="black")))
annotations.append(dict(
    text="圖 3.8　2018 年 7 月　各測站波浪尖峰週期逐時變化圖",
    xref="paper", yref="paper", x=xp(655), y=yp(1777),
    xanchor="center", yanchor="middle", showarrow=False,
    font=dict(family="Noto Sans CJK TC", size=29, color="black")))

fig.update_layout(
    width=W, height=H,
    margin=dict(l=0, r=0, t=0, b=0, autoexpand=False),
    paper_bgcolor="white", plot_bgcolor="white",
    showlegend=False,
    annotations=annotations,
    shapes=[dict(type="line", xref="paper", yref="paper", x0=xp(1258.5), x1=xp(1258.5),
                 y0=0, y1=1, line=dict(color="#e02020", width=1.5))],
    **layout,
)

fig.write_html("out.html", include_plotlyjs=True,
               config={"displayModeBar": False},
               post_script="document.body.style.margin='0';document.body.style.overflow='hidden';")
